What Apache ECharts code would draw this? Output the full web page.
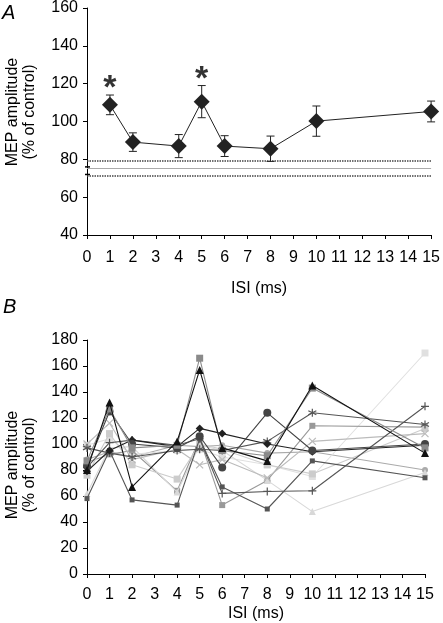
<!DOCTYPE html>
<html><head><meta charset="utf-8">
<script src="https://cdn.jsdelivr.net/npm/echarts@6/dist/echarts.min.js"></script>
<style>html,body{margin:0;padding:0;background:#fff}#c{width:443px;height:623px}</style>
</head><body><div id="c"></div>
<script>
// ---- Panel A data ----
const isiA = [1, 2, 4, 5, 6, 8, 10, 15];
const meanA = [108.8, 89.1, 87.0, 110.5, 87.0, 85.6, 100.2, 105.3];
const semA = [5.2, 4.9, 6.1, 8.5, 5.5, 6.7, 8.0, 5.5];
const controlMean = 75.5;
const controlUpper = 79.5;
const controlLower = 71.5;
const controlCaps = [72, 76];
const sigIsi = [1, 5];
const sigLabelY = [121, 126];
// ---- Panel B data (individual subjects) ----
const isiB = [0, 1, 2, 4, 5, 6, 8, 10, 15];
const s1 = [80, 132, 67, 102, 157, 97, 87, 145, 93];
const s2 = [87, 127, 97, 99, 166, 95, 91, 143, 97];
const s3 = [83, 125, 100, 97, 106, 82, 124, 95, 100];
const s4 = [79, 95, 103, 98, 112, 108, 100, 94, 99];
const s5 = [97, 93, 90, 95, 96, 95, 102, 124, 115];
const s6 = [82, 101, 103, 99, 104, 62, 63.5, 64, 129];
const s7 = [58, 95, 57, 53, 104, 67, 50, 87, 74];
const s8 = [100, 116, 88, 96, 84, 88, 74, 102, 108];
const s9 = [76, 108, 84, 73, 100, 96, 84, 77, 112];
const s10 = [62, 97, 98, 63, 99, 95, 72, 48, 78];
const s11 = [86, 92, 95, 64, 104, 53, 72, 114, 113];
const s12 = [99, 104, 92, 95, 96, 90, 84, 75, 170];
const s13 = [88, 94, 90, 99, 98, 99, 93, 94, 80];
const xTicks = ['0','1','2','3','4','5','6','7','8','9','10','11','12','13','14','15'];

const STAR = 'path://M0,-1L0,1M-0.87,-0.5L0.87,0.5M-0.87,0.5L0.87,-0.5';
const PLUS = 'path://M0,-1L0,1M-1,0L1,0';
const CROSS = 'path://M-1,-1L1,1M-1,1L1,-1';
const subj = [
  [s1, '#111', 'triangle', 8],
  [s2, '#8a8a8a', 'rect', 7],
  [s3, '#444', 'circle', 8],
  [s4, '#222', 'diamond', 8],
  [s5, '#555', STAR, 8],
  [s6, '#555', PLUS, 8],
  [s7, '#555', 'rect', 5],
  [s8, '#bbb', CROSS, 7],
  [s9, '#ccc', 'rect', 7],
  [s10, '#d8d8d8', 'triangle', 7],
  [s11, '#999', 'rect', 6],
  [s12, '#e0e0e0', 'rect', 7],
  [s13, '#aaa', 'circle', 6]
];

const font = 'Liberation Sans, Arial, sans-serif';
const axisCommon = {
  axisLine: {show: true, lineStyle: {color: '#000', width: 1}},
  axisTick: {show: true, length: 4, lineStyle: {color: '#000'}},
  splitLine: {show: false},
  axisLabel: {color: '#000', fontSize: 16, fontFamily: font}
};

const seriesB = subj.map((s, i) => ({
  type: 'line', xAxisIndex: 1, yAxisIndex: 1,
  data: isiB.map((x, j) => [x, s[0][j]]),
  symbol: s[2], symbolSize: s[3],
  lineStyle: {color: s[1], width: 1.1},
  itemStyle: {color: s[1], borderColor: s[1], borderWidth: (s[2].startsWith('path') ? 1.2 : 0)},
  z: 20 - i
}));

const option = {
  animation: false,
  backgroundColor: '#fff',
  grid: [
    {left: 87, top: 7, width: 349, height: 228},
    {left: 87, top: 340, width: 338, height: 236}
  ],
  xAxis: [
    Object.assign({}, axisCommon, {gridIndex: 0, type: 'value', min: 0, max: 15, interval: 1,
      axisLabel: Object.assign({}, axisCommon.axisLabel, {margin: 15, formatter: v => xTicks[v]}),
      name: 'ISI (ms)', nameLocation: 'middle', nameGap: 46,
      nameTextStyle: {color: '#000', fontSize: 16, fontFamily: font}}),
    Object.assign({}, axisCommon, {gridIndex: 1, type: 'value', min: 0, max: 15, interval: 1,
      axisLabel: Object.assign({}, axisCommon.axisLabel, {margin: 13, formatter: v => xTicks[v]}),
      name: 'ISI (ms)', nameLocation: 'middle', nameGap: 32,
      nameTextStyle: {color: '#000', fontSize: 16, fontFamily: font}})
  ],
  yAxis: [
    Object.assign({}, axisCommon, {gridIndex: 0, type: 'value', min: 40, max: 160, interval: 20,
      axisLabel: Object.assign({}, axisCommon.axisLabel, {margin: 9})}),
    Object.assign({}, axisCommon, {gridIndex: 1, type: 'value', min: 0, max: 180, interval: 20,
      axisLabel: Object.assign({}, axisCommon.axisLabel, {margin: 9})})
  ],
  graphic: [
    {type: 'text', left: 2, top: 3, style: {text: 'A', font: 'italic 20px ' + font, fill: '#000'}},
    {type: 'text', left: 3, top: 297, style: {text: 'B', font: 'italic 20px ' + font, fill: '#000'}},
    {type: 'text', x: 21, y: 112, rotation: Math.PI / 2,
      style: {text: 'MEP amplitude\n(% of control)', font: '16px ' + font, fill: '#000',
        textAlign: 'center', textVerticalAlign: 'middle', lineHeight: 17}},
    {type: 'text', x: 21, y: 465, rotation: Math.PI / 2,
      style: {text: 'MEP amplitude\n(% of control)', font: '16px ' + font, fill: '#000',
        textAlign: 'center', textVerticalAlign: 'middle', lineHeight: 17}}
  ],
  series: [
    {
      type: 'line', xAxisIndex: 0, yAxisIndex: 0,
      data: isiA.map((x, i) => [x, meanA[i]]),
      symbol: 'diamond', symbolSize: 16,
      lineStyle: {color: '#222', width: 1},
      itemStyle: {color: '#222'},
      z: 10,
      markLine: {
        silent: true, symbol: 'none', label: {show: false},
        data: [
          {yAxis: controlUpper, lineStyle: {type: [1.5, 1], color: '#444', width: 1.6}},
          {yAxis: controlMean, lineStyle: {type: 'solid', color: '#aaa', width: 1}},
          {yAxis: controlLower, lineStyle: {type: [1.5, 1], color: '#444', width: 1.6}}
        ]
      }
    },
    {
      type: 'custom', xAxisIndex: 0, yAxisIndex: 0, z: 9,
      data: isiA.map((x, i) => [x, meanA[i] - semA[i], meanA[i] + semA[i]]),
      renderItem: (params, api) => {
        const lo = api.coord([api.value(0), api.value(1)]);
        const hi = api.coord([api.value(0), api.value(2)]);
        const w = 4;
        const st = {stroke: '#222', lineWidth: 1};
        return {type: 'group', children: [
          {type: 'line', shape: {x1: lo[0], y1: lo[1], x2: hi[0], y2: hi[1]}, style: st},
          {type: 'line', shape: {x1: lo[0] - w, y1: lo[1], x2: lo[0] + w, y2: lo[1]}, style: st},
          {type: 'line', shape: {x1: hi[0] - w, y1: hi[1], x2: hi[0] + w, y2: hi[1]}, style: st}
        ]};
      }
    },
    {
      type: 'custom', xAxisIndex: 0, yAxisIndex: 0, z: 9,
      data: controlCaps.map(v => [0, v]),
      renderItem: (params, api) => {
        const p = api.coord([api.value(0), api.value(1)]);
        return {type: 'line', shape: {x1: p[0] - 2, y1: p[1], x2: p[0] + 3, y2: p[1]},
          style: {stroke: '#000', lineWidth: 1.5}};
      }
    },
    {
      type: 'scatter', xAxisIndex: 0, yAxisIndex: 0, symbolSize: 0,
      data: sigIsi.map((x, i) => [x, sigLabelY[i]]),
      label: {show: true, position: 'inside', formatter: '*', fontSize: 34, fontWeight: 'bold',
        color: '#000', fontFamily: font, offset: [0, 7]}
    }
  ].concat(seriesB)
};
const chart = echarts.init(document.getElementById('c'), null, {renderer: 'canvas'});
chart.setOption(option);
</script></body></html>
